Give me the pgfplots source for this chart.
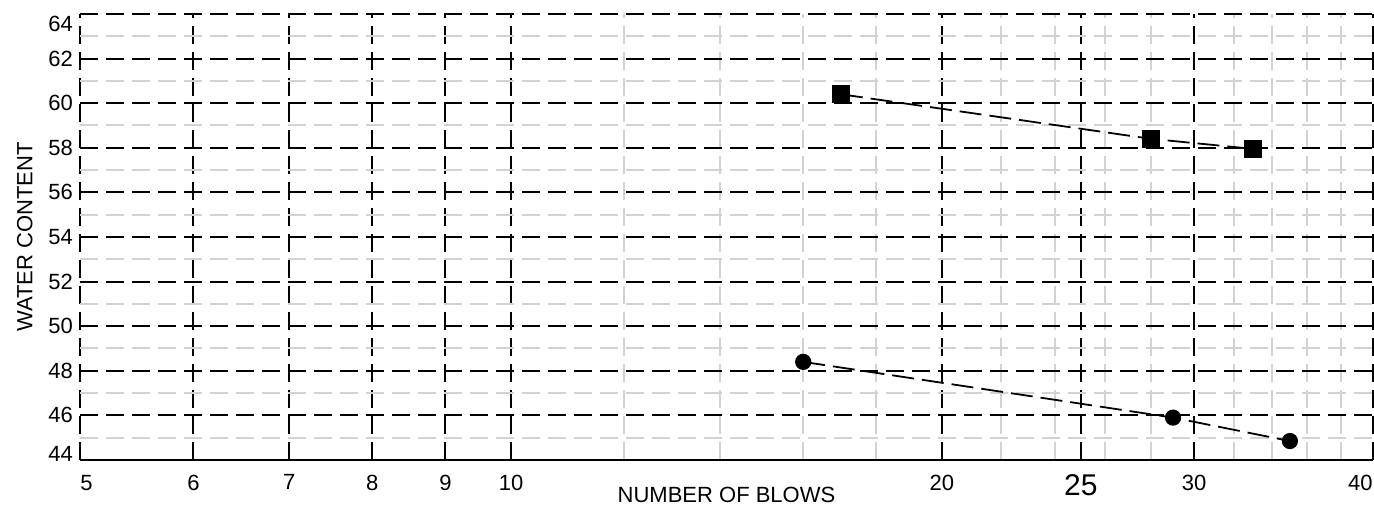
\documentclass[border=0pt]{standalone}
\usepackage{fontspec}
\setmainfont{Liberation Sans}
\usepackage{pgfplots}
\pgfplotsset{compat=1.18}
\definecolor{minorgray}{RGB}{210,210,210}
\newcommand\f{\fontsize{11}{13}\selectfont}
\begin{document}
\begin{tikzpicture}
  % liquid limit: water content against number of blows (log scale)
  \begin{semilogxaxis}[
      scale only axis,
      width=646.5pt, height=223pt,
      xmin=5, xmax=40, ymin=44, ymax=64,
      xtick={5,6,7,8,9,10,20,25,30,40},
      xticklabels={,6,7,8,9,10,20,{\fontsize{15}{15}\selectfont 25},30,},
      minor xtick={12,14,16,18,22,24,26,28,32,34,36,38},
      ytick={44,46,...,64},
      yticklabels={,46,48,50,52,54,56,58,60,62,},
      minor ytick={45,47,...,63},
      grid=both,
      major grid style={black, line width=1pt, dash pattern=on 9pt off 4pt},
      minor grid style={minorgray, line width=1pt, dash pattern=on 9pt off 4pt},
      axis x line*=bottom, axis y line*=left,
      x axis line style={-, line width=1pt},
      y axis line style={draw=none},
      tick style={draw=none},
      tick label style={font=\f},
      xticklabel style={yshift=-3.8pt},
      xlabel={NUMBER OF BLOWS},
      ylabel={WATER CONTENT},
      label style={font=\f, inner sep=0pt},
      xlabel style={at={(axis description cs:0.5,-0.0955)}, anchor=base},
      ylabel style={at={(axis description cs:-0.0363,0.5)}, anchor=south},
      clip=false,
    ]
    \addplot[black, line width=0.9pt, dash pattern=on 11pt off 4pt,
      mark=square*, mark size=4pt, mark options={solid}]
      coordinates {(17,60.4) (28,58.4) (33,57.95)};
    \addplot[black, line width=0.9pt, dash pattern=on 11pt off 4pt,
      mark=*, mark size=3.6pt, mark options={solid}]
      coordinates {(16,48.4) (29,45.9) (35,44.85)};
    % end labels sit inside the axis span
    \node[font=\f, anchor=north west, inner sep=0pt] at (axis cs:5,44) [yshift=-7.5pt] {5};
    \node[font=\f, anchor=north east, inner sep=0pt] at (axis cs:40,44) [yshift=-7.5pt] {40};
    \node[font=\f, anchor=east] at (axis cs:5,64) [yshift=-5pt] {64};
    \node[font=\f, anchor=east] at (axis cs:5,44) [yshift=3.2pt] {44};
    \coordinate (ll) at (rel axis cs:0,0);
    \coordinate (ur) at (rel axis cs:1,1);
  \end{semilogxaxis}
  \pgfresetboundingbox
  \path ([shift={(-40pt,-23pt)}]ll) rectangle ([shift={(0.5pt,7pt)}]ur);
\end{tikzpicture}
\end{document}
